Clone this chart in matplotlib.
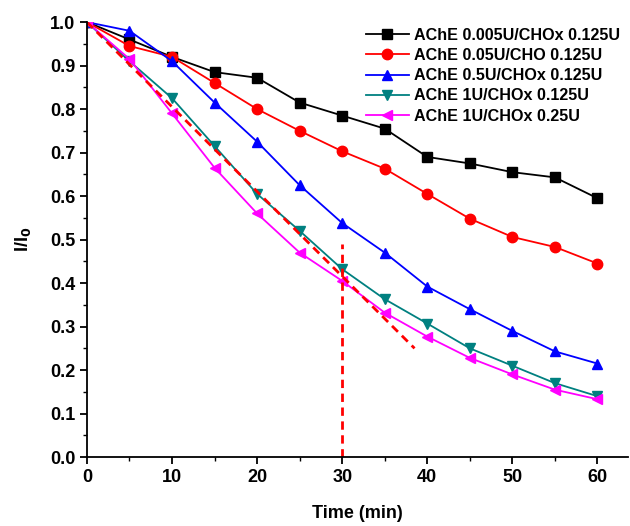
import matplotlib
matplotlib.use("Agg")
import matplotlib.pyplot as plt
from matplotlib.ticker import MultipleLocator

plt.rcParams['font.family'] = ['Liberation Sans', 'DejaVu Sans']
plt.rcParams['font.weight'] = 'bold'

# time points (min)
time = [0, 5, 10, 15, 20, 25, 30, 35, 40, 45, 50, 55, 60]

# I/I0 for each enzyme ratio
ache_0005 = [1.0, 0.96, 0.92, 0.885, 0.872, 0.815, 0.785, 0.755, 0.69, 0.675, 0.655, 0.643, 0.595]
ache_005 = [1.0, 0.945, 0.92, 0.86, 0.80, 0.75, 0.703, 0.663, 0.605, 0.548, 0.506, 0.483, 0.445]
ache_05 = [1.0, 0.98, 0.91, 0.815, 0.725, 0.625, 0.538, 0.47, 0.392, 0.34, 0.29, 0.243, 0.215]
ache_1 = [1.0, 0.91, 0.825, 0.715, 0.605, 0.52, 0.432, 0.363, 0.307, 0.25, 0.21, 0.17, 0.14]
ache_1_025 = [1.0, 0.915, 0.79, 0.665, 0.56, 0.47, 0.405, 0.332, 0.277, 0.228, 0.19, 0.155, 0.133]

labels = ["AChE 0.005U/CHOx 0.125U", "AChE 0.05U/CHO 0.125U", "AChE 0.5U/CHOx 0.125U",
          "AChE 1U/CHOx 0.125U", "AChE 1U/CHOx 0.25U"]

# guide lines
tangent_x = [0, 38.5]
tangent_y = [1.0, 0.25]
vline_x = 30
vline_top = 0.49

fig = plt.figure(figsize=(6.3, 5.26), dpi=100)
ax = fig.add_axes([0.138, 0.131, 0.859, 0.827])

series = [ache_0005, ache_005, ache_05, ache_1, ache_1_025]
colors = ["black", "red", "blue", "#008080", "magenta"]
markers = ["s", "o", "^", "v", "<"]
for ys, c, m, lab in zip(series, colors, markers, labels):
    ax.plot(time, ys, color=c, marker=m, markersize=7.5, linewidth=1.3, label=lab)

ax.plot(tangent_x, tangent_y, color="red", linestyle=(0, (3, 2)), linewidth=2)
ax.plot([vline_x, vline_x], [0, vline_top], color="red", linestyle=(0, (3, 2)), linewidth=2)

ax.set_xlim(0, 63.6)
ax.set_ylim(0, 1.0)
ax.xaxis.set_major_locator(MultipleLocator(10))
ax.xaxis.set_minor_locator(MultipleLocator(5))
ax.yaxis.set_major_locator(MultipleLocator(0.1))
ax.yaxis.set_minor_locator(MultipleLocator(0.05))
ax.yaxis.set_major_formatter(matplotlib.ticker.FormatStrFormatter('%.1f'))

for side in ["top", "right"]:
    ax.spines[side].set_visible(False)
for side in ["left", "bottom"]:
    ax.spines[side].set_linewidth(1.3)
ax.tick_params(which="major", direction="out", length=5, width=1.3, labelsize=13)
ax.tick_params(which="minor", direction="out", length=3, width=1.0)
for t in ax.get_xticklabels() + ax.get_yticklabels():
    t.set_fontweight("bold")

ax.set_xlabel("Time (min)", fontsize=13, fontweight="bold", labelpad=14)
ax.set_ylabel("I/I$_\\mathbf{0}$", fontsize=13, fontweight="bold", labelpad=12)

ax.legend(loc="upper right", bbox_to_anchor=(1.0, 1.005), frameon=False,
          handlelength=2.7, handletextpad=0.3, labelspacing=0.32, borderaxespad=0.1,
          prop={'weight': 'bold', 'size': 11.6})

fig.savefig("out.png", dpi=100)
